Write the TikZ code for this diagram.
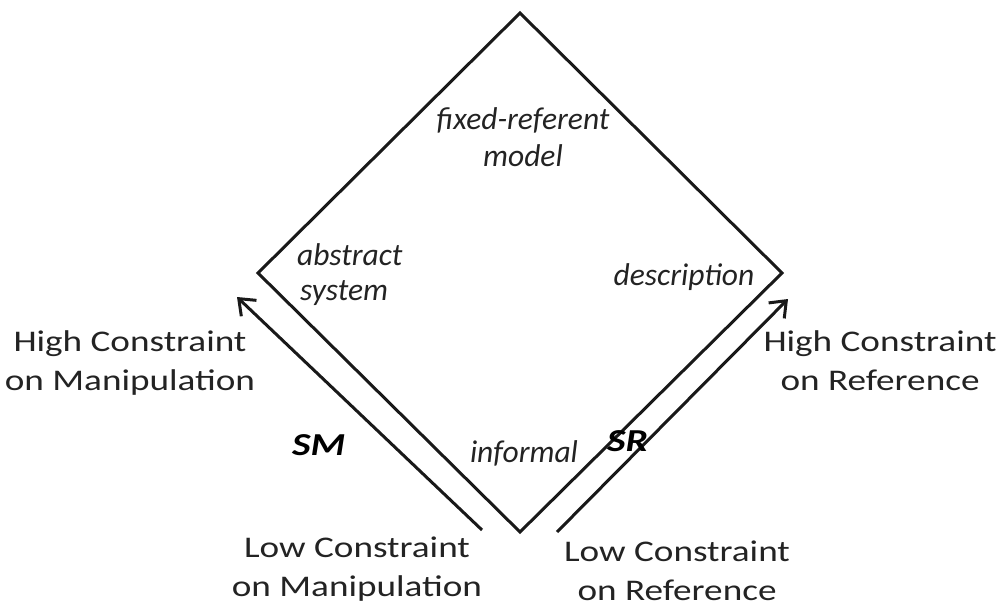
\documentclass[tikz,border=0pt]{standalone}
\usepackage{fontspec}
\setmainfont{Carlito}
\newfontfamily\widefont[FakeStretch=1.24]{Carlito}
\usetikzlibrary{arrows.meta}
\definecolor{txt}{RGB}{35,35,35}
\begin{document}
\begin{tikzpicture}[x=1pt,y=-1pt,
  edge/.style={line width=3pt,line join=miter,black!90},
  arr/.style={line width=3pt,black!90,-{Straight Barb[length=14pt,width=22pt,line width=3pt]}},
  lbl/.style={font=\widefont\fontsize{30}{40}\selectfont,text=txt,anchor=base,inner sep=0pt},
  ital/.style={font=\fontsize{31.5}{37}\selectfont\itshape,text=txt,anchor=base,inner sep=0pt},
  bold/.style={font=\widefont\fontsize{32}{36}\selectfont\bfseries\itshape,text=black,anchor=base west,inner sep=0pt}]
\useasboundingbox (0,0) rectangle (1001,607);
\coordinate (T) at (520,13);
\coordinate (L) at (258,273);
\coordinate (R) at (782,273);
\coordinate (B) at (520,532);
\draw[edge] (T) -- (R) -- (B) -- (L) -- cycle;
\coordinate (a1) at (482,530);
\coordinate (a2) at (237,297);
\coordinate (b1) at (557,532);
\coordinate (b2) at (788,299);
\draw[arr] (a1) -- (a2);
\draw[arr] (b1) -- (b2);
\node[lbl] (hcm1) at (130,351) {High Constraint};
\node[lbl] (hcm2) at (130,390) {on Manipulation};
\node[lbl] (hcr1) at (880,351) {High Constraint};
\node[lbl] (hcr2) at (880,390) {on Reference};
\node[lbl] (lcm1) at (357,557) {Low Constraint};
\node[lbl] (lcm2) at (357,596) {on Manipulation};
\node[lbl] (lcr1) at (677,561) {Low Constraint};
\node[lbl] (lcr2) at (677,600) {on Reference};
\node[bold] (sm) at (292,455) {SM};
\node[bold] (sr) at (607,451) {SR};
\node[ital] (inf) at (524,462) {informal};
\node[ital] (fr1) at (523,130) {fixed-referent};
\node[ital] (fr2) at (523,167) {model};
\node[ital,anchor=base west] (abs1) at (297,265) {abstract};
\node[ital,anchor=base west] (abs2) at (300,300) {system};
\node[ital] (desc) at (684,285) {description};
\end{tikzpicture}
\end{document}
